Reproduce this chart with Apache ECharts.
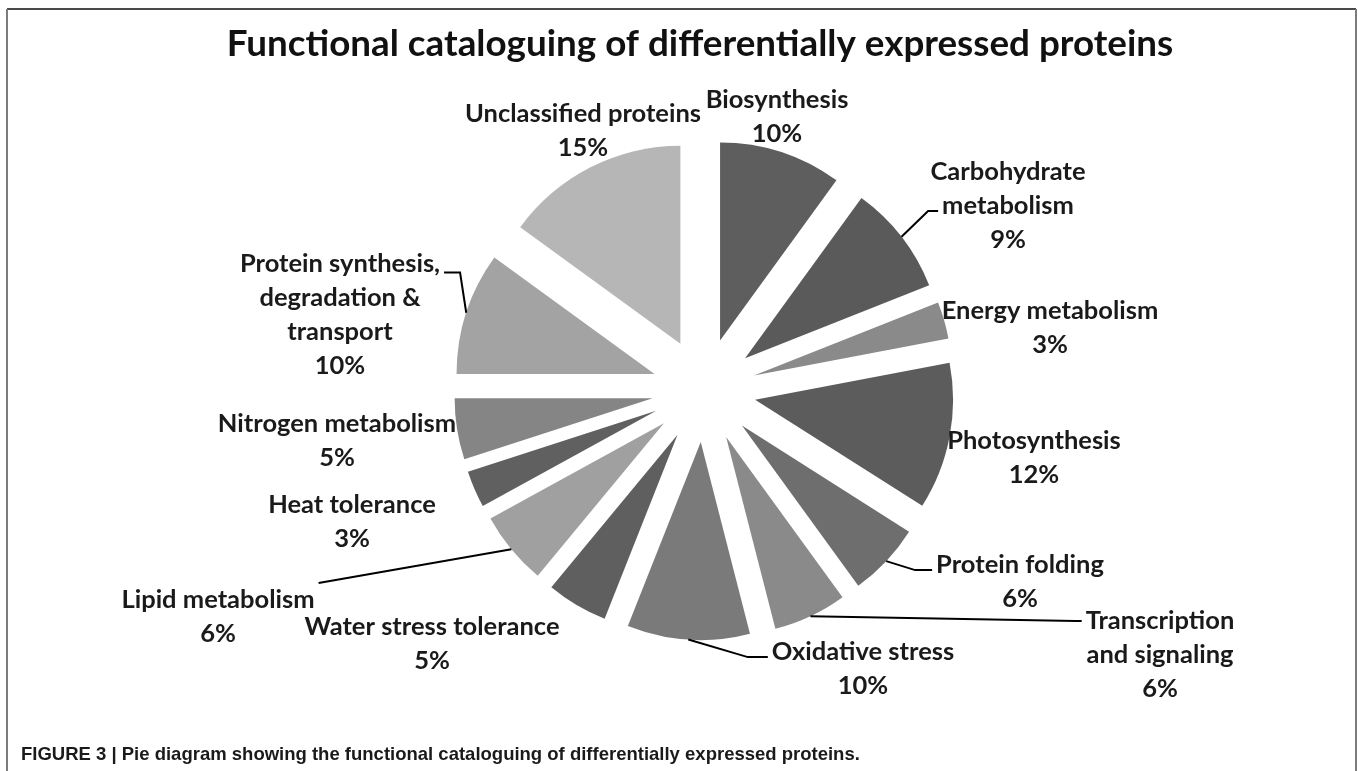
<!DOCTYPE html>
<html>
<head>
<meta charset="utf-8">
<script src="https://cdn.jsdelivr.net/npm/echarts@6/dist/echarts.min.js"></script>
<style>
  html, body { margin: 0; padding: 0; background: #fff; }
  #chart { width: 1358px; height: 771px; }
</style>
</head>
<body>
<div id="chart"></div>
<script>
// Functional categories (clockwise from 12 o'clock) and their share in percent
const categories = [
  'Biosynthesis',
  'Carbohydrate\nmetabolism',
  'Energy metabolism',
  'Photosynthesis',
  'Protein folding',
  'Transcription\nand signaling',
  'Oxidative stress',
  'Water stress tolerance',
  'Lipid metabolism',
  'Heat tolerance',
  'Nitrogen metabolism',
  'Protein synthesis,\ndegradation &\ntransport',
  'Unclassified proteins'
];
const shares = [10, 9, 3, 12, 6, 6, 10, 5, 6, 3, 5, 10, 15];

// Grey shade of each slice
const sliceColors = [
  '#5e5e5e', '#5a5a5a', '#8a8a8a', '#5c5c5c', '#6e6e6e', '#8a8a8a', '#7a7a7a',
  '#5f5f5f', '#a0a0a0', '#606060', '#858585', '#a3a3a3', '#b6b6b6'
];

// Centre of each label block on the canvas
const labelSpots = [
  [777, 117], [1008, 206], [1050, 328], [1034, 458], [1020, 582], [1160, 655],
  [863, 669], [432, 644], [218, 617], [352, 522], [337, 441], [340, 315], [583, 131]
];

// Leader lines: which side of the label they meet, at which text row, and the
// length of the short horizontal stub next to the text (null = no leader)
const leaders = [
  null,
  { side: 'left', row: 1.15, stub: 10 },
  null,
  null,
  { side: 'left', row: 0.15, stub: 17 },
  { side: 'left', row: 0.0, stub: 6 },
  { side: 'left', row: 0.15, stub: 20 },
  null,
  { side: 'right', row: -0.5, stub: 0 },
  null,
  null,
  { side: 'right', row: 0.25, stub: 16 },
  null
];

const PIE_CENTER = [704, 390];
const PIE_RADIUS = 198;
const EXPLODE = 52;
const LABEL_FONT_SIZE = 25.5;
const LABEL_ROW = 34;

// Mid-angle of every slice, clockwise from 12 o'clock, in radians
const total = shares.reduce((a, b) => a + b, 0);
let running = 0;
const midAngles = shares.map(v => {
  const a = (running + v / 2) / total * 2 * Math.PI;
  running += v;
  return a;
});

const measureCtx = document.createElement('canvas').getContext('2d');
measureCtx.font = 'bold ' + LABEL_FONT_SIZE + 'px Lato';

function labelText(i) {
  return categories[i] + '\n' + shares[i] + '%';
}

function placeLabel(p) {
  const i = p.dataIndex;
  const sx = labelSpots[i][0];
  const sy = labelSpots[i][1];
  const out = { x: sx, y: sy, align: 'center', verticalAlign: 'middle' };
  const lead = leaders[i];
  if (lead) {
    const lines = labelText(i).split('\n');
    const top = sy - lines.length * LABEL_ROW / 2;
    const rowY = top + LABEL_ROW * (lead.row + 0.5);
    const rowIdx = Math.min(Math.max(Math.round(lead.row), 0), lines.length - 1);
    const w = measureCtx.measureText(lines[rowIdx]).width;
    const dir = lead.side === 'left' ? -1 : 1;
    const endX = sx + dir * (w / 2 + 4);
    const bendX = endX + dir * lead.stub;
    // leader starts at the middle of the exploded slice's outer rim
    const reach = PIE_RADIUS + EXPLODE;
    const a = midAngles[i];
    const start = [PIE_CENTER[0] + reach * Math.sin(a), PIE_CENTER[1] - reach * Math.cos(a)];
    out.labelLinePoints = [start, [bendX, rowY], [endX, rowY]];
  }
  return out;
}

const chart = echarts.init(document.getElementById('chart'), null, { renderer: 'canvas' });

// Exploded slices
const sliceData = categories.map((name, i) => ({
  name: name,
  value: shares[i],
  selected: true,
  itemStyle: { color: sliceColors[i] }
}));

// Same slices, unpainted, carrying the labels and leader lines
const labelData = categories.map((name, i) => ({
  name: name,
  value: shares[i],
  labelLine: { show: leaders[i] !== null }
}));

chart.setOption({
  animation: false,
  backgroundColor: '#ffffff',
  title: [
    {
      text: 'Functional cataloguing of differentially expressed proteins',
      left: 695,
      textAlign: 'center',
      top: 21,
      textStyle: { fontFamily: 'Lato', fontWeight: 'bold', fontSize: 36.8, color: '#111111' }
    },
    {
      text: 'FIGURE 3 | Pie diagram showing the functional cataloguing of differentially expressed proteins.',
      left: 16,
      top: 740,
      textStyle: { fontFamily: 'Liberation Sans', fontWeight: 'bold', fontSize: 18.5, color: '#1a1a1a' }
    }
  ],
  graphic: [
    { type: 'line', shape: { x1: 7, y1: 9, x2: 1356, y2: 9 }, style: { stroke: '#4a4a4a', lineWidth: 2 } },
    { type: 'line', shape: { x1: 7, y1: 9, x2: 7, y2: 771 }, style: { stroke: '#7c7c7c', lineWidth: 2 } },
    { type: 'line', shape: { x1: 1356, y1: 9, x2: 1356, y2: 771 }, style: { stroke: '#7c7c7c', lineWidth: 2 } }
  ],
  series: [
    {
      name: 'slices',
      type: 'pie',
      z: 2,
      center: PIE_CENTER,
      radius: PIE_RADIUS,
      startAngle: 90,
      clockwise: true,
      selectedMode: 'multiple',
      selectedOffset: EXPLODE,
      emphasis: { disabled: true },
      label: { show: false },
      labelLine: { show: false },
      data: sliceData
    },
    {
      name: 'labels',
      type: 'pie',
      z: 3,
      silent: true,
      center: PIE_CENTER,
      radius: PIE_RADIUS,
      startAngle: 90,
      clockwise: true,
      avoidLabelOverlap: false,
      emphasis: { disabled: true },
      itemStyle: { color: 'rgba(0,0,0,0)' },
      label: {
        show: true,
        position: 'outside',
        formatter: p => labelText(p.dataIndex),
        fontFamily: 'Lato',
        fontWeight: 'bold',
        fontSize: LABEL_FONT_SIZE,
        lineHeight: LABEL_ROW,
        color: '#1a1a1a',
        align: 'center'
      },
      labelLine: {
        show: true,
        length: 10,
        length2: 12,
        lineStyle: { color: '#000000', width: 2 }
      },
      labelLayout: placeLabel,
      data: labelData
    }
  ]
});
</script>
</body>
</html>
